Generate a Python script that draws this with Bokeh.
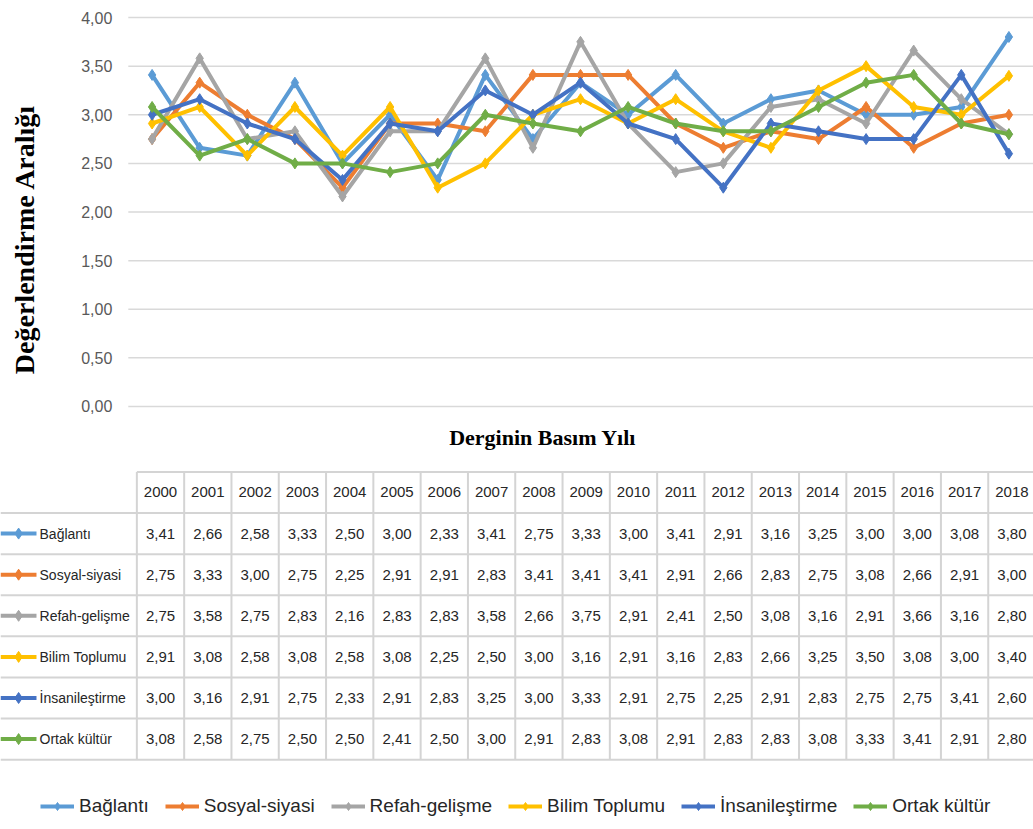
import math
from bokeh.plotting import figure
from bokeh.models import Range1d, Legend, LegendItem
from bokeh.embed import file_html
from bokeh.resources import INLINE
from bokeh.core.properties import value

# ---------------- data ----------------
years = ["2000", "2001", "2002", "2003", "2004", "2005", "2006", "2007", "2008", "2009",
         "2010", "2011", "2012", "2013", "2014", "2015", "2016", "2017", "2018"]
series_names = ["Bağlantı", "Sosyal-siyasi", "Refah-gelişme", "Bilim Toplumu",
                "İnsanileştirme", "Ortak kültür"]
baglanti = [3.41, 2.66, 2.58, 3.33, 2.50, 3.00, 2.33, 3.41, 2.75, 3.33, 3.00, 3.41, 2.91, 3.16, 3.25, 3.00, 3.00, 3.08, 3.80]
sosyal = [2.75, 3.33, 3.00, 2.75, 2.25, 2.91, 2.91, 2.83, 3.41, 3.41, 3.41, 2.91, 2.66, 2.83, 2.75, 3.08, 2.66, 2.91, 3.00]
refah = [2.75, 3.58, 2.75, 2.83, 2.16, 2.83, 2.83, 3.58, 2.66, 3.75, 2.91, 2.41, 2.50, 3.08, 3.16, 2.91, 3.66, 3.16, 2.80]
bilim = [2.91, 3.08, 2.58, 3.08, 2.58, 3.08, 2.25, 2.50, 3.00, 3.16, 2.91, 3.16, 2.83, 2.66, 3.25, 3.50, 3.08, 3.00, 3.40]
insan = [3.00, 3.16, 2.91, 2.75, 2.33, 2.91, 2.83, 3.25, 3.00, 3.33, 2.91, 2.75, 2.25, 2.91, 2.83, 2.75, 2.75, 3.41, 2.60]
ortak = [3.08, 2.58, 2.75, 2.50, 2.50, 2.41, 2.50, 3.00, 2.91, 2.83, 3.08, 2.91, 2.83, 2.83, 3.08, 3.33, 3.41, 2.91, 2.80]
tick_values = [0, 0.5, 1, 1.5, 2, 2.5, 3, 3.5, 4]
tick_labels = ["0,00", "0,50", "1,00", "1,50", "2,00", "2,50", "3,00", "3,50", "4,00"]
y_title = "Değerlendirme Aralığı"
x_title = "Derginin Basım Yılı"

series_values = [baglanti, sosyal, refah, bilim, insan, ortak]
colors = ["#5B9BD5", "#ED7D31", "#A5A5A5", "#FFC000", "#4472C4", "#70AD47"]

SANS = "Liberation Sans"
SERIF = "Liberation Serif"
n = len(years)
ns = len(series_names)
idx = list(range(n))

# chart scale (main ranges) and data-table scale (extra ranges) on one canvas
X_LO, X_HI = -3.185, 18.517
p = figure(width=1033, height=829, x_range=Range1d(X_LO, X_HI), y_range=Range1d(-4.350, 4.175),
           output_backend="svg", toolbar_location=None, x_axis_location=None,
           y_axis_location=None, min_border=0)
p.outline_line_color = None
p.grid.visible = False
TX_LO, TX_HI = -3.383, 18.457
p.extra_x_ranges = {"tx": Range1d(TX_LO, TX_HI)}
p.extra_y_ranges = {"ty": Range1d(8.200, -11.971)}

# ---------------- line chart ----------------
p.segment(x0=[-0.5] * len(tick_values), y0=tick_values, x1=[X_HI] * len(tick_values),
          y1=tick_values, line_color="#d9d9d9", line_width=1.5)
p.text(x=[-0.5] * len(tick_values), y=tick_values, text=tick_labels, x_offset=-16,
       text_font=value(SANS), text_font_size="16px", text_color="#595959",
       text_align="right", text_baseline="middle")
p.text(x=[-0.5], y=[1.72], text=[y_title], x_offset=-104, angle=math.pi / 2,
       text_font=value(SERIF), text_font_style="bold", text_font_size="28px",
       text_color="#000000", text_align="center", text_baseline="middle")

for vals, c in zip(series_values, colors):
    p.line(idx, vals, line_color=c, line_width=4)
    p.scatter(idx, vals, marker="diamond", size=11, fill_color=c, line_color=c)

# ---------------- data table ----------------
T = dict(x_range_name="tx", y_range_name="ty")
grid_c = "#d4d4d4"
p.segment(x0=[i - 0.5 for i in range(n + 1)], y0=[-0.5] * (n + 1),
          x1=[i - 0.5 for i in range(n + 1)], y1=[ns + 0.5] * (n + 1),
          line_color=grid_c, line_width=2, **T)
p.segment(x0=[-0.5] + [TX_LO] * (ns + 1), y0=[-0.5] + [k + 0.5 for k in range(ns + 1)],
          x1=[n - 0.5] * (ns + 2), y1=[-0.5] + [k + 0.5 for k in range(ns + 1)],
          line_color=grid_c, line_width=2, **T)

txt = dict(text_font=value(SANS), text_font_size="15px", text_color="#262626",
           text_align="center", text_baseline="middle")
p.text(x=idx, y=[0] * n, text=years, **txt, **T)
items = []
for k, (name, vals, c) in enumerate(zip(series_names, series_values, colors)):
    r = k + 1
    p.text(x=idx, y=[r] * n, text=[f"{v:.2f}".replace(".", ",") for v in vals], **txt, **T)
    p.text(x=[-2.558], y=[r], text=[name], text_font=value(SANS), text_font_size="14px",
           text_color="#262626", text_align="left", text_baseline="middle", **T)
    lr = p.line([TX_LO, -2.622], [r, r], line_color=c, line_width=4, **T)
    sr = p.scatter([-3.0], [r], marker="diamond", size=11, fill_color=c, line_color=c, **T)
    items.append(LegendItem(label=name, renderers=[lr, sr]))

p.text(x=[8.08], y=[-1.338], text=[x_title], text_font=value(SERIF),
       text_font_style="bold", text_font_size="22px", text_color="#000000",
       text_align="center", text_baseline="middle", **T)

legend = Legend(items=items, orientation="horizontal", location=(40, 12),
                glyph_width=34, glyph_height=20, label_standoff=5, spacing=16,
                padding=0, margin=0, border_line_color=None, background_fill_alpha=0,
                label_text_font=SANS, label_text_font_size="19px",
                label_text_color="#262626")
p.add_layout(legend)

open("out.html", "w").write(file_html(p, INLINE))
